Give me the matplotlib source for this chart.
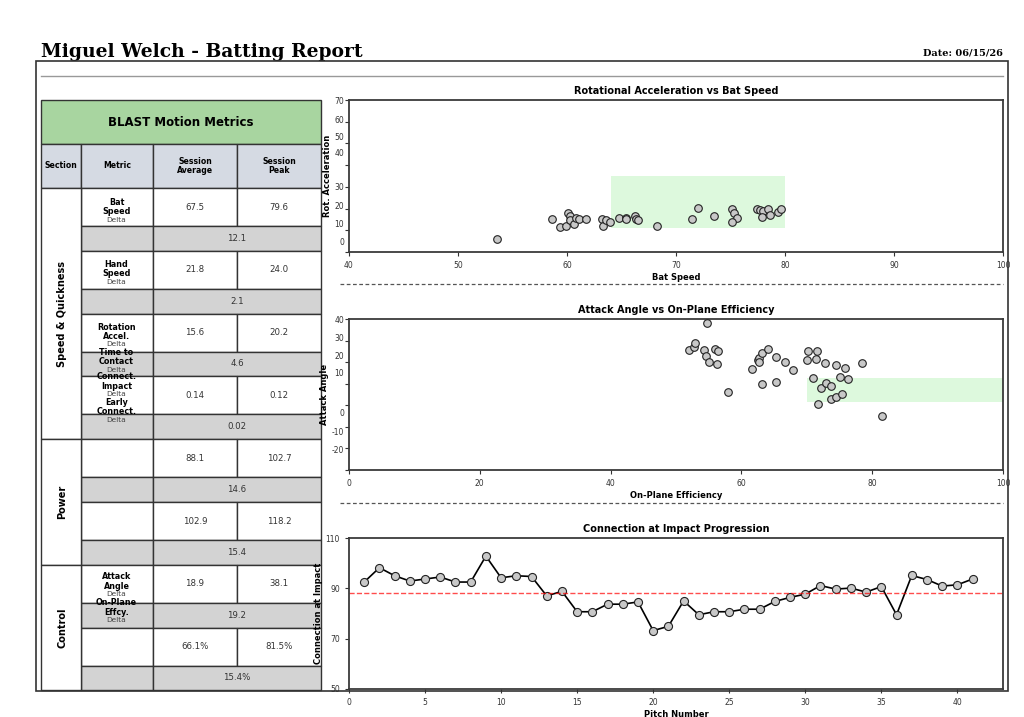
import numpy as np
import matplotlib.pyplot as plt
from matplotlib.patches import Rectangle

W, H = 1024, 717

# 리포트 헤더
player_name = 'Miguel Welch'
report_date = '06/15/26'

# 테이블 데이터
sections = ['Speed & Quickness', 'Power', 'Control']
section_rows = [4, 2, 2]
avg_values = ['67.5', '21.8', '15.6', '0.14', '88.1', '102.9', '18.9', '66.1%']
peak_values = ['79.6', '24.0', '20.2', '0.12', '102.7', '118.2', '38.1', '81.5%']
delta_values = ['12.1', '2.1', '4.6', '0.02', '14.6', '15.4', '19.2', '15.4%']
metric_labels = ['Bat\nSpeed', 'Hand\nSpeed', 'Rotation\nAccel.', 'Time to\nContact',
                 'Connect.\nImpact', 'Early\nConnect.', 'Attack\nAngle', 'On-Plane\nEffcy.']
metric_label_y = [206.8, 269, 331.8, 357.3, 381.5, 406.8, 581.5, 607.5]

# 산점도 1: Bat Speed vs Rot. Acceleration
bat_speed = [53.6, 58.65, 59.4, 59.9, 60.1, 60.3, 60.3, 60.6, 60.8, 61.1, 61.7, 63.2, 63.3,
             63.6, 63.9, 64.8, 65.4, 65.4, 66.2, 66.3, 66.5, 68.3, 71.5, 72.05, 73.5, 75.1,
             75.3, 75.6, 75.1, 77.4, 77.7, 78.0, 78.4, 77.9, 78.6, 79.4, 79.6]
rot_accel = [6.0, 15.3, 11.4, 12.2, 17.8, 16.8, 14.7, 12.7, 15.8, 15.3, 15.3, 15.3, 12.2,
             14.7, 13.6, 15.8, 15.8, 15.0, 16.8, 15.0, 14.7, 12.2, 15.0, 20.1, 16.8, 19.6,
             18.1, 15.8, 14.0, 19.6, 19.2, 19.0, 19.6, 16.2, 17.1, 18.4, 19.9]
bat_zone = (64, 80, 11, 35)
rot_ticks = [0, 10, 20, 30, 40, 50, 60, 70]
rot_tick_pos = [5, 13.2, 21.2, 30.1, 45.9, 53.2, 60.9, 69.7]

# 산점도 2: On-Plane Efficiency vs Attack Angle
on_plane = [52.0, 52.8, 52.9, 54.3, 54.6, 54.7, 55.1, 56.0, 56.2, 56.4, 57.9, 61.6, 62.5, 62.7,
            62.7, 63.1, 63.1, 64.0, 65.3, 65.3, 66.6, 67.9, 70.2, 70.1, 70.9, 71.5, 71.4, 71.7,
            72.1, 72.8, 73.0, 73.7, 73.7, 74.5, 74.4, 75.1, 75.4, 75.8, 76.3, 78.4, 81.5]
attack_angle = [25.4, 27.0, 29.0, 25.7, 22.9, 38.3, 20.0, 25.9, 19.0, 25.1, 6.2, 16.9, 21.2, 21.7,
                20.0, 24.3, 9.9, 26.3, 22.6, 11.0, 20.0, 16.3, 25.1, 20.9, 12.7, 25.1, 21.5, 0.6,
                7.9, 19.4, 10.4, 9.1, 3.1, 3.9, 18.7, 13.0, 5.2, 17.5, 12.4, 19.7, -5.0]
plane_zone = (70, 100, 1.3, 12.8)
aa_ticks = [-20, -10, 0, 10, 20, 30, 40]
aa_tick_pos = [-20.3, -12, -3.3, 15, 23.2, 31.5, 39.85]

# 라인 차트: Connection at Impact
connection = [92.5, 98.2, 95.0, 92.9, 93.7, 94.5, 92.5, 92.5, 102.8, 94.2, 95.0, 94.7, 87.0,
              88.8, 80.7, 80.7, 83.7, 83.7, 84.6, 73.2, 74.9, 85.0, 79.5, 80.7, 80.7, 81.7,
              81.7, 84.8, 86.4, 87.7, 91.1, 89.7, 90.1, 88.5, 90.7, 79.5, 95.1, 93.5, 90.9,
              91.4, 93.7]
pitch_num = list(range(1, len(connection) + 1))


def px_axes(l, t, r, b):
    return [l / W, 1 - b / H, (r - l) / W, (b - t) / H]


fig = plt.figure(figsize=(W / 100, H / 100), dpi=100)
bg = fig.add_axes([0, 0, 1, 1])
bg.set_xlim(0, W)
bg.set_ylim(H, 0)
bg.axis('off')

# 제목
bg.text(41, 57, f'{player_name} - Batting Report', family='DejaVu Serif', fontweight='bold',
        fontsize=13.5, va='baseline', ha='left')
bg.text(1003, 56, f'Date: {report_date}', family='DejaVu Serif', fontweight='bold',
        fontsize=7, va='baseline', ha='right')
bg.plot([41, 1003], [76, 76], color='#999999', lw=1)

# 테이블
edge = '#333333'
cols = [41, 80.5, 153, 237, 321]
bg.add_patch(Rectangle((41, 100), 280, 44, facecolor='#a8d5a0', edgecolor=edge, lw=1))
bg.text(181, 123, 'BLAST Motion Metrics', fontweight='bold', fontsize=8.5, ha='center', va='center')
heads = ['Section', 'Metric', 'Session\nAverage', 'Session\nPeak']
for i, h in enumerate(heads):
    bg.add_patch(Rectangle((cols[i], 144), cols[i + 1] - cols[i], 44, facecolor='#d5dae3',
                           edgecolor=edge, lw=1))
    bg.text((cols[i] + cols[i + 1]) / 2, 166, h, fontweight='bold', fontsize=5.6,
            ha='center', va='center', linespacing=1.1)

row_top = 188
white_h, gray_h = 38, 24.8
tops = []
for k in range(len(avg_values)):
    t = row_top + k * (white_h + gray_h)
    tops.append(t)
    for i in range(1, 4):
        bg.add_patch(Rectangle((cols[i], t), cols[i + 1] - cols[i], white_h, facecolor='white',
                               edgecolor=edge, lw=1))
    bg.text(195, t + white_h / 2, avg_values[k], fontsize=6.2, color='#333333', ha='center', va='center')
    bg.text(279, t + white_h / 2, peak_values[k], fontsize=6.2, color='#333333', ha='center', va='center')
    g = t + white_h
    bg.add_patch(Rectangle((cols[1], g), cols[2] - cols[1], gray_h, facecolor='#d3d3d3',
                           edgecolor=edge, lw=1))
    bg.add_patch(Rectangle((cols[2], g), cols[4] - cols[2], gray_h, facecolor='#d3d3d3',
                           edgecolor=edge, lw=1))
    bg.text(237, g + gray_h / 2, delta_values[k], fontsize=6.2, color='#333333', ha='center', va='center')

start = 0
for name, n in zip(sections, section_rows):
    t = tops[start]
    h = n * (white_h + gray_h)
    bg.add_patch(Rectangle((cols[0], t), cols[1] - cols[0], h, facecolor='white', edgecolor=edge, lw=1))
    bg.text(62, t + h / 2, name, fontweight='bold', fontsize=7, rotation=90, ha='center', va='center')
    start += n

for lab, y in zip(metric_labels, metric_label_y):
    bg.text(116.5, y, lab, fontweight='bold', fontsize=5.8, ha='center', va='center', linespacing=1.05)
    bg.text(116.5, y + 12.7, 'Delta', fontsize=5.3, color='#444444', ha='center', va='center')

# 구분 점선
for y in [284, 503]:
    bg.plot([340, 1003], [y, y], color='#555555', lw=0.9, ls=(0, (3, 2)))


def style_ax(ax):
    for s in ax.spines.values():
        s.set_color('#3a3a3a')
        s.set_linewidth(1.3)
    ax.tick_params(labelsize=5.5, colors='#333333', length=3, width=0.8)


# 차트 1
ax1 = fig.add_axes(px_axes(349, 100, 1003, 252))
ax1.add_patch(Rectangle((bat_zone[0], bat_zone[2]), bat_zone[1] - bat_zone[0],
                        bat_zone[3] - bat_zone[2], facecolor='#90ee90', alpha=0.3, lw=0))
ax1.scatter(bat_speed, rot_accel, s=30, c='#c8c8c8', edgecolors='#222222', linewidths=0.8, zorder=3)
ax1.set_xlim(40, 100)
ax1.set_ylim(0, 70)
ax1.set_yticks(range(0, 71, 10))
ax1.set_yticklabels([])
ax1.set_yticks(rot_tick_pos, [str(v) for v in rot_ticks], minor=True)
style_ax(ax1)
ax1.tick_params(axis='y', which='minor', length=0, labelsize=5.5, colors='#333333')
ax1.set_title('Rotational Acceleration vs Bat Speed', fontsize=7, fontweight='bold', pad=4)
ax1.set_xlabel('Bat Speed', fontsize=6, fontweight='bold', labelpad=2)
ax1.set_ylabel('Rot. Acceleration', fontsize=6, fontweight='bold', labelpad=2)

# 차트 2
ax2 = fig.add_axes(px_axes(349, 319, 1003, 470))
ax2.add_patch(Rectangle((plane_zone[0], plane_zone[2]), plane_zone[1] - plane_zone[0],
                        plane_zone[3] - plane_zone[2], facecolor='#90ee90', alpha=0.3, lw=0))
ax2.scatter(on_plane, attack_angle, s=30, c='#c8c8c8', edgecolors='#222222', linewidths=0.8, zorder=3)
ax2.set_xlim(0, 100)
ax2.set_ylim(-30, 40)
ax2.set_yticks(range(-30, 41, 10))
ax2.set_yticklabels([])
ax2.set_yticks(aa_tick_pos, [str(v) for v in aa_ticks], minor=True)
style_ax(ax2)
ax2.tick_params(axis='y', which='minor', length=0, labelsize=5.5, colors='#333333')
ax2.set_title('Attack Angle vs On-Plane Efficiency', fontsize=7, fontweight='bold', pad=4)
ax2.set_xlabel('On-Plane Efficiency', fontsize=6, fontweight='bold', labelpad=2)
ax2.set_ylabel('Attack Angle', fontsize=6, fontweight='bold', labelpad=2)

# 차트 3
ax3 = fig.add_axes(px_axes(349, 538, 1003, 689))
ax3.plot(pitch_num, connection, color='black', lw=1.2, marker='o', markersize=5.8,
         markerfacecolor='#c8c8c8', markeredgecolor='#222222', markeredgewidth=0.8)
ax3.axhline(np.mean(connection), color='red', ls='--', lw=1, alpha=0.7)
ax3.set_xlim(0, 43)
ax3.set_ylim(50, 110)
ax3.set_yticks([50, 70, 90, 110])
ax3.set_xticks(range(0, 41, 5))
style_ax(ax3)
ax3.set_title('Connection at Impact Progression', fontsize=7, fontweight='bold', pad=4)
ax3.set_xlabel('Pitch Number', fontsize=6, fontweight='bold', labelpad=2)
ax3.set_ylabel('Connection at Impact', fontsize=6, fontweight='bold', labelpad=2)

# 바깥 테두리
fig.add_artist(Rectangle((36 / W, 1 - 691 / H), 972 / W, 630 / H, transform=fig.transFigure,
                         fill=False, edgecolor='#333333', lw=1.2, zorder=10))

plt.savefig('out.png', dpi=100)
